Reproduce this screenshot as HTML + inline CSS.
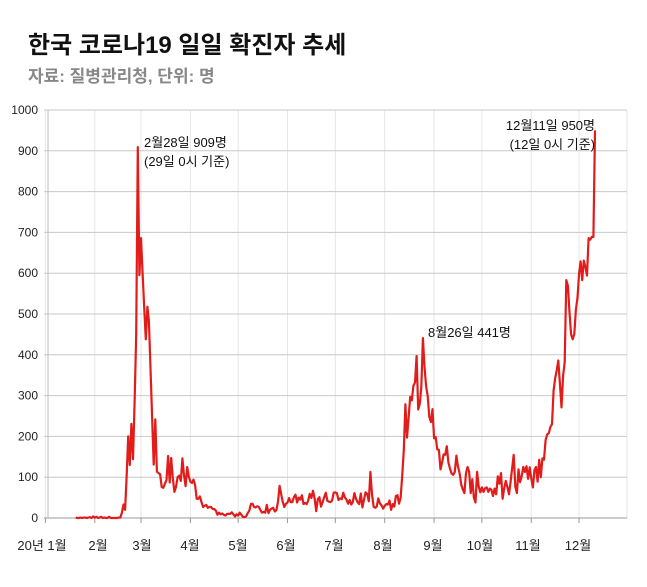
<!DOCTYPE html>
<html><head><meta charset="utf-8"><style>
body{margin:0;background:#fff;width:647px;height:582px;overflow:hidden;font-family:"Liberation Sans","Noto Sans CJK KR",sans-serif}
</style></head><body>
<svg width="647" height="582" xmlns="http://www.w3.org/2000/svg" font-family="Liberation Sans, Noto Sans CJK KR, sans-serif">
<text x="28" y="53" font-size="24" font-weight="bold" fill="#111">한국 코로나19 일일 확진자 추세</text>
<text x="28" y="82" font-size="17" fill="#888" font-weight="bold">자료: 질병관리청, 단위: 명</text>
<g id="grid"></g>
<g id="ylab" font-size="12" fill="#222" text-anchor="end"></g>
<g id="xlab" font-size="13" fill="#222" text-anchor="middle"></g>
<polyline id="line" fill="none" stroke="#e21b1b" stroke-width="2.2" stroke-linejoin="round"/>
<g font-size="13" fill="#111">
<text x="144" y="147">2월28일 909명</text>
<text x="144" y="166">(29일 0시 기준)</text>
<text x="595" y="130" text-anchor="end">12월11일 950명</text>
<text x="595" y="149" text-anchor="end">(12일 0시 기준)</text>
<text x="428" y="337">8월26일 441명</text>
</g>
</svg>
<script>
var ns="http://www.w3.org/2000/svg";
function X(d){return 45.4+d*1.593}function Y(v){return 518-0.408*v}
function el(p,t,a,txt){var e=document.createElementNS(ns,t);for(var k in a)e.setAttribute(k,a[k]);if(txt)e.textContent=txt;document.getElementById(p).appendChild(e);}
var starts=[0,31,60,91,121,152,182,213,244,274,305,335];
for(var i=0;i<12;i++){var x=X(starts[i]);el("grid","line",{x1:x,x2:x,y1:110,y2:518,stroke:"#e6e6e6","stroke-width":1});el("grid","line",{x1:x,x2:x,y1:518,y2:523,stroke:"#999"});}
el("grid","line",{x1:627,x2:627,y1:110,y2:518,stroke:"#e6e6e6"});
for(var v=0;v<=1000;v+=100){el("grid","line",{x1:44,x2:627,y1:Y(v),y2:Y(v),stroke:v==0?"#999":"#c8c8c8","stroke-width":1});el("ylab","text",{x:38,y:Y(v)+4},String(v));}
el("grid","line",{x1:48,x2:48,y1:110,y2:518,stroke:"#bbb"});
var labs=[["20년 1월",42],["2월",98],["3월",142],["4월",190],["5월",238],["6월",286],["7월",334],["8월",383],["9월",433],["10월",480],["11월",528],["12월",578]];
labs.forEach(function(l){el("xlab","text",{x:l[1],y:550},l[0]);});
var segs=[[19,[1,0,0,1,0,1,1,0,1,2,0,4]],
[31,[1,3,0,1,3,0,1,0,0,3,0,0,0,0,0,1,1,13,33,20,100,200,130,231,144,284,450,909]],
[59,[595,686,600,516,438,518,483,367,248,131,242,114,110,107,76,74,84,93,152,87,147,98,64,76,100,104,91,146,105,78,125]],
[90,[101,89,86,94,81,47,47,53,39,27,30,32,25,27,27,22,22,18,8,13,9,11,8,6,10,10,10,14,9,4]],
[120,[9,6,13,8,3,2,4,12,18,34,35,27,26,29,27,19,13,15,13,32,12,20,23,25,16,19,40,79,58,39,27]],
[151,[35,38,49,39,39,51,57,38,50,45,56,34,37,34,43,59,49,67,48,17,46,51,28,39,51,62,42,40,39,43]],
[181,[62,63,61,44,48,46,62,50,45,35,44,33,39,61,47,39,34,60,26,45,63,59,41,113,58,28,25,28,48,36,31]],
[212,[23,30,34,33,43,20,34,28,54,56,35,49,103,166,279,197,246,297,288,324,332,397,266,280,320,441,371,323,299,248,235]],
[243,[267,195,198,168,167,119,136,156,155,176,136,121,109,106,113,153,126,110,82,70,61,110,125,114,61,95,50,38,113,77]],
[273,[63,75,64,73,75,64,72,69,54,72,58,102,84,110,47,73,91,76,58,89,121,155,77,61,119,88,103,125,113,127,96]],
[304,[124,97,75,118,125,89,143,100,146,143,191,205,208,223,230,313,343,363,386,330,271,349,382,583,569,504,450,438,451,511]],
[334,[540,600,629,583,631,615,594,686,682,689,689,950]]];
var pts=[];segs.forEach(function(s){s[1].forEach(function(v,i){pts.push(X(s[0]+i).toFixed(1)+","+Y(v).toFixed(1));});});
document.getElementById("line").setAttribute("points",pts.join(" "));
</script>
</body></html>
